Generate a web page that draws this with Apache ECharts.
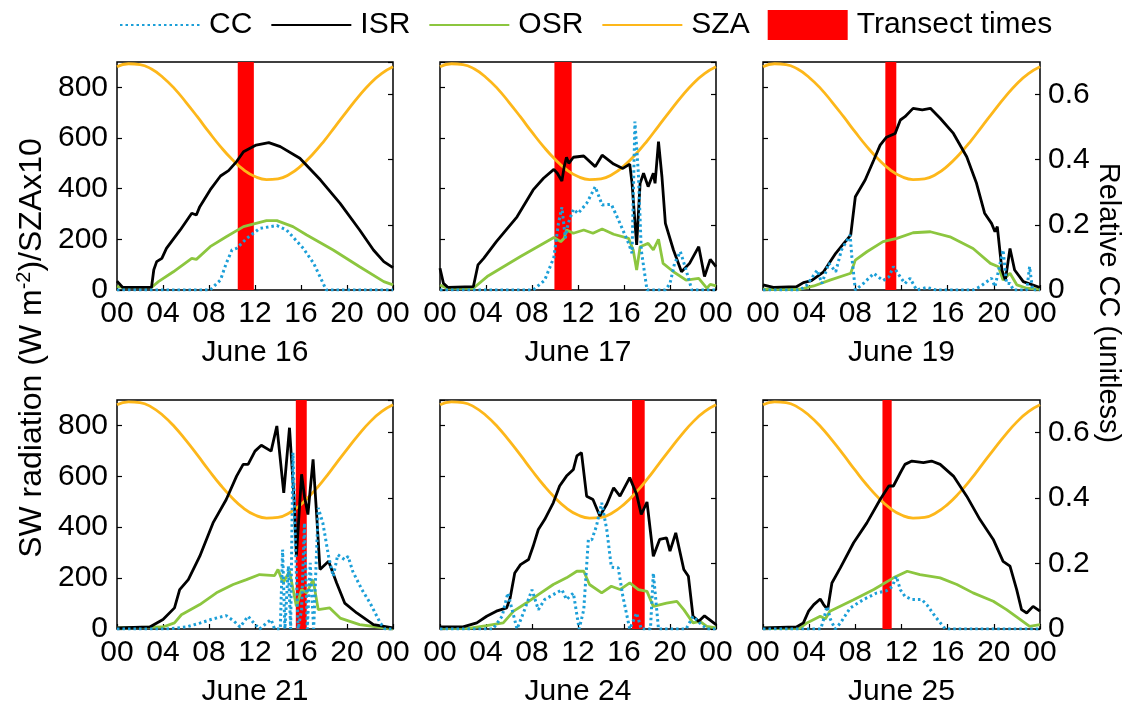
<!DOCTYPE html>
<html><head><meta charset="utf-8">
<script src="https://cdn.jsdelivr.net/npm/echarts@6/dist/echarts.min.js"></script>
<style>html,body{margin:0;padding:0;background:#fff}#c{width:1131px;height:709px}</style>
</head><body><div id="c"></div><script>
// ---- data (hours of day, values) ----
const panelTitles = ['June 16','June 17','June 19','June 21','June 24','June 25'];
const hourTickLabels = ['00','04','08','12','16','20','00'];

// SZA x10, hourly 00..24
const szaHours = [0,1,2,3,4,5,6,7,8,9,10,11,12,13,14,15,16,17,18,19,20,21,22,23,24];
const szaX10 = [881,893,890,872,839,795,741,683,623,566,516,475,448,436,439,457,490,535,588,647,706,763,814,854,881];

const isr16 = [[0,35],[0.5,10],[3,10],[3.2,80],[3.45,112],[3.9,125],[4.3,164],[5.5,237],[6.5,303],[6.9,296],[7.2,329],[8.1,395],[9.0,450],[9.7,471],[10.4,507],[11.0,546],[12.1,572],[13.2,582],[14.2,566],[15.9,520],[17.7,434],[19.4,342],[21.1,237],[22.3,158],[23.2,112],[24,88]];
const osr16 = [[0,14],[0.5,10],[3,10],[3.6,33],[4.9,72],[6.5,125],[6.9,121],[8.1,171],[9.5,210],[11,250],[13,274],[13.9,274],[15.3,250],[16.5,217],[18.8,158],[21.1,92],[23.2,33],[24,20]];
const cc16 = [[0,0],[8.1,0],[9,0.031],[9.5,0.082],[10,0.123],[10.4,0.128],[11.3,0.159],[12.4,0.189],[13.9,0.198],[14.75,0.184],[16.2,0.128],[17.1,0.082],[18.2,0],[24,0]];
const trans16 = [10.5, 11.9];

const isr17 = [[0,86],[0.3,26],[0.7,10],[2.9,13],[3.3,99],[3.8,125],[4.9,191],[6.7,289],[8.1,395],[9.0,441],[9.9,476],[10.2,461],[10.6,430],[10.8,487],[11.0,524],[11.2,500],[11.6,524],[12.5,529],[13.5,487],[14.1,532],[15.1,497],[15.9,480],[16.5,497],[16.7,421],[17.1,178],[17.4,421],[17.7,461],[18.1,408],[18.55,461],[18.7,421],[19.0,586],[19.3,447],[19.6,263],[20.3,158],[21,72],[21.7,105],[22.5,171],[23.0,53],[23.5,121],[24,92]];
const osr17 = [[0,20],[0.6,7],[2.9,7],[4.1,53],[7.0,132],[9.9,207],[10.5,191],[10.8,204],[11,237],[11.6,224],[12.5,237],[13.3,224],[14.1,241],[15.1,220],[16.4,204],[16.8,158],[17.1,79],[17.4,171],[18.1,184],[18.55,158],[19,200],[19.4,105],[20.3,72],[21.4,39],[22.5,46],[23.2,7],[23.5,22],[24,16]];
const cc17 = [[0,0],[8.1,0],[9.1,0.03],[9.9,0.10],[10.3,0.205],[10.6,0.254],[10.9,0.159],[11.15,0.205],[11.6,0.248],[12.0,0.235],[12.75,0.266],[13.5,0.317],[14.1,0.261],[14.9,0.263],[15.65,0.205],[16.4,0.143],[16.7,0.113],[16.95,0.517],[17.25,0.358],[17.5,0.123],[18,0],[19.6,0],[20,0.02],[20.4,0.082],[20.9,0.118],[21.4,0.061],[21.9,0],[24,0]];
const trans17 = [9.95, 11.45];

const isr19 = [[0,20],[0.9,10],[2.9,13],[3.5,29],[4.2,37],[5.25,72],[6.3,145],[7.0,184],[7.6,217],[8.0,368],[8.85,434],[9.6,513],[10.15,572],[10.7,603],[11.45,618],[11.9,671],[12.3,684],[13.0,717],[13.8,711],[14.5,717],[15.35,678],[16.5,618],[17.65,526],[18.5,421],[19.2,303],[19.8,263],[20.1,230],[20.3,250],[20.7,79],[21.0,39],[21.4,164],[21.8,79],[22.55,33],[24,10]];
const osr19 = [[0,3],[3.2,3],[4.4,16],[5.8,39],[7.6,66],[8.0,118],[9.0,151],[10.4,191],[11.6,204],[13,226],[14.5,230],[16.2,210],[18.2,164],[19.7,105],[20.4,92],[20.8,39],[21.4,66],[22,20],[22.85,7],[24,3]];
const cc19 = [[0,0],[3.2,0],[3.8,0.015],[4.7,0.061],[5.1,0.02],[5.7,0.082],[6.3,0.056],[6.8,0.123],[7.55,0.169],[7.7,0.10],[8.0,0],[8.7,0.02],[9.6,0.051],[10.4,0.029],[10.9,0.04],[11.3,0.072],[11.9,0.04],[12.3,0.02],[12.75,0.036],[13.3,0],[14.2,0.008],[15,0],[18.2,0],[18.8,0.01],[19.8,0.036],[20.1,0.01],[20.8,0.123],[21.1,0.02],[21.4,0.02],[21.7,0],[22.85,0],[23.1,0.072],[23.35,0],[24,0]];
const trans19 = [10.6, 11.55];

const isr21 = [[0,4],[2.85,8],[4.0,37],[5.0,83],[5.45,155],[6.2,194],[7.2,286],[8.35,417],[9.5,509],[10.4,601],[10.97,647],[11.4,647],[12.0,699],[12.55,722],[13.4,699],[13.9,798],[14.5,535],[15.0,791],[15.4,509],[15.6,286],[16.05,608],[16.3,522],[16.6,450],[17.05,667],[17.35,457],[17.65,234],[18.4,266],[19.1,181],[19.8,102],[20.85,63],[22.3,17],[24,4]];
const osr21 = [[0,4],[4.0,8],[5.0,24],[5.6,56],[7.2,96],[8.65,142],[10.1,175],[11.26,194],[12.4,214],[13.7,210],[14.0,234],[14.45,181],[15.0,227],[15.6,89],[16.05,155],[16.5,142],[17.05,194],[17.5,76],[18.5,83],[19.4,43],[21.1,17],[24,0]];
const cc21 = [[0,0],[4.3,0],[6.0,0.006],[7.2,0.018],[8.35,0.031],[9.5,0.041],[10.2,0.023],[10.7,0.006],[11.4,0.039],[11.9,0.018],[12.4,0],[13.0,0.018],[13.4,0.029],[13.7,0],[14.2,0],[14.4,0.243],[14.6,0],[14.9,0.192],[15.1,0],[15.3,0.539],[15.55,0.222],[15.75,0],[16.05,0.059],[16.3,0.324],[16.55,0],[16.8,0.202],[17.1,0],[17.5,0.37],[17.9,0.324],[18.4,0.222],[18.8,0.161],[19.2,0.227],[19.8,0.212],[20.1,0.222],[20.5,0.176],[21.3,0.12],[22.0,0.08],[22.9,0.018],[23.3,0],[24,0]];
const trans21 = [15.55, 16.5];

const isr24 = [[0,8],[2.0,8],[3.2,24],[4.06,50],[4.9,70],[5.8,83],[6.1,122],[6.5,220],[7.0,253],[7.7,273],[8.1,325],[8.55,391],[9.1,430],[9.85,496],[10.4,562],[11.0,601],[11.6,627],[11.9,680],[12.3,693],[12.75,522],[13.3,509],[13.9,444],[14.5,490],[15.1,555],[15.65,522],[16.5,595],[17.1,529],[17.5,450],[18.0,499],[18.55,286],[19.1,352],[19.7,358],[20.0,306],[20.5,378],[21.2,234],[21.6,207],[22.0,50],[22.5,30],[23.0,52],[24,17]];
const osr24 = [[0,3],[2.6,3],[4.06,13],[5.5,24],[6.4,70],[7.5,102],[8.55,135],[9.85,175],[11.0,201],[11.9,227],[12.5,227],[13.0,175],[14.06,142],[14.9,168],[15.65,155],[16.5,181],[17.25,155],[18.0,148],[18.55,89],[19.7,102],[20.6,109],[21.2,76],[22.0,24],[22.6,30],[23.2,10],[24,4]];
const cc24 = [[0,0],[4.6,0],[5.4,0.039],[5.9,0.11],[6.7,0],[7.25,0.049],[8.0,0.12],[8.55,0.059],[9.1,0.09],[9.85,0.105],[10.6,0.12],[11.0,0.09],[11.6,0.11],[12.1,0],[12.5,0.059],[12.9,0.273],[13.2,0.273],[13.6,0.314],[14.06,0.386],[14.5,0.304],[14.9,0.189],[15.5,0.187],[15.9,0.1],[16.5,0],[17.1,0.049],[17.5,0],[18.3,0],[18.55,0.171],[19.0,0],[21.4,0],[22.0,0.039],[22.6,0.018],[23.2,0],[24,0]];
const trans24 = [16.7, 17.8];

const isr25 = [[0,4],[2.9,8],[3.5,24],[3.95,70],[4.4,96],[4.96,118],[5.25,96],[5.6,76],[5.97,181],[6.7,240],[7.85,339],[9.0,417],[10.15,509],[10.9,562],[11.3,562],[11.9,614],[12.3,647],[12.9,660],[13.9,654],[14.6,660],[15.35,647],[16.5,601],[17.65,522],[18.8,430],[19.95,352],[20.8,266],[21.4,247],[21.98,155],[22.4,76],[22.85,63],[23.4,89],[24,70]];
const osr25 = [[0,3],[3.2,3],[3.8,24],[4.96,50],[5.4,39],[5.8,70],[7.85,115],[9.6,155],[11.3,201],[12.5,227],[13.6,214],[15.35,201],[16.8,175],[18.2,142],[19.95,109],[21.1,76],[22.3,37],[23.1,10],[24,17]];
const cc25 = [[0,0],[5.0,0],[5.25,0.029],[5.55,0.069],[5.85,0.029],[6.25,0],[6.7,0.018],[7.55,0.064],[8.7,0.09],[9.85,0.11],[10.7,0.117],[11.2,0.13],[11.55,0.161],[11.9,0.12],[12.3,0.1],[12.9,0.09],[13.75,0.09],[14.2,0.074],[14.9,0.039],[15.8,0],[24,0]];
const trans25 = [10.35, 11.15];

const isrAll = [isr16, isr17, isr19, isr21, isr24, isr25];
const osrAll = [osr16, osr17, osr19, osr21, osr24, osr25];
const ccAll = [cc16, cc17, cc19, cc21, cc24, cc25];
const transAll = [trans16, trans17, trans19, trans21, trans24, trans25];

// ---- layout / style ----
const FONT = "'Liberation Sans', Arial, sans-serif";
const FS = 30;
const colors = {cc:'#1b9fd8', isr:'#000000', osr:'#8cc63f', sza:'#fdb71a', tr:'#ff0000'};
const gridBoxes = [
  {left:117, top:62, width:276, height:228},
  {left:440, top:62, width:276, height:228},
  {left:763, top:62, width:277, height:228},
  {left:117, top:400, width:276, height:229},
  {left:440, top:400, width:276, height:229},
  {left:763, top:400, width:277, height:229}
];

const szaData = szaHours.map((h, i) => [h, szaX10[i]]);
const grid = [], xAxis = [], yAxis = [], series = [];
gridBoxes.forEach((b, i) => {
  const col = i % 3;
  grid.push(Object.assign({show:true, borderColor:'#000', borderWidth:1.5, backgroundColor:'transparent'}, b));
  xAxis.push({
    type:'value', gridIndex:i, min:0, max:24, interval:4,
    axisLine:{show:false}, splitLine:{show:false},
    axisTick:{show:true, inside:true, length:5, lineStyle:{color:'#000', width:1.2}},
    axisLabel:{fontSize:FS, fontFamily:FONT, color:'#000', margin:9, formatter:v => hourTickLabels[Math.round(v/4)]},
    name: panelTitles[i], nameLocation:'middle', nameGap:48,
    nameTextStyle:{fontSize:FS, fontFamily:FONT, color:'#000', verticalAlign:'top'}
  });
  yAxis.push({
    type:'value', gridIndex:i, position:'left', min:0, max:900, interval:200,
    axisLine:{show:false}, splitLine:{show:false},
    axisTick:{show:true, inside:true, length:5, lineStyle:{color:'#000', width:1.2}},
    axisLabel:{show: col === 0, showMaxLabel:false, fontSize:FS, fontFamily:FONT, color:'#000', margin:9}
  });
  yAxis.push({
    type:'value', gridIndex:i, position:'right', min:0, max:0.7, interval:0.2,
    axisLine:{show:false}, splitLine:{show:false},
    axisTick:{show:true, inside:true, length:5, lineStyle:{color:'#000', width:1.2}},
    axisLabel:{show: col === 2, showMaxLabel:false, fontSize:FS, fontFamily:FONT, color:'#000', margin:8,
      formatter: v => (Math.round(v*10)/10).toString()}
  });
  const yl = 2*i, yr = 2*i+1;
  series.push({
    name:'Transect times', type:'line', xAxisIndex:i, yAxisIndex:yl, data:[], z:1,
    color:colors.tr, itemStyle:{color:colors.tr}, symbol:'none', silent:true,
    markArea:{silent:true, z:1, itemStyle:{color:colors.tr, opacity:1}, label:{show:false},
      data:[[{xAxis:transAll[i][0]},{xAxis:transAll[i][1]}]]}
  });
  series.push({name:'SZA', type:'line', xAxisIndex:i, yAxisIndex:yl, data:szaData, smooth:true, symbol:'none', z:3,
    color:colors.sza, lineStyle:{color:colors.sza, width:2.8}});
  series.push({name:'OSR', type:'line', xAxisIndex:i, yAxisIndex:yl, data:osrAll[i], symbol:'none', z:4,
    color:colors.osr, lineStyle:{color:colors.osr, width:2.8}});
  series.push({name:'ISR', type:'line', xAxisIndex:i, yAxisIndex:yl, data:isrAll[i], symbol:'none', z:5,
    color:colors.isr, lineStyle:{color:colors.isr, width:2.8}});
  series.push({name:'CC', type:'line', xAxisIndex:i, yAxisIndex:yr, data:ccAll[i], symbol:'none', z:6,
    color:colors.cc, lineStyle:{color:colors.cc, width:3, type:[2.5,3]}});
});

const noSym = {opacity:0};
const chart = echarts.init(document.getElementById('c'), null, {renderer:'canvas'});
chart.setOption({
  animation:false,
  backgroundColor:'#fff',
  textStyle:{fontFamily:FONT},
  legend:{
    top:5, left:114, itemWidth:80, itemHeight:30, itemGap:18,
    textStyle:{fontSize:FS, fontFamily:FONT, color:'#000', padding:[0,0,0,4]},
    data:[{name:'CC', itemStyle:noSym},{name:'ISR', itemStyle:noSym},{name:'OSR', itemStyle:noSym},{name:'SZA', itemStyle:noSym},{name:'Transect times', icon:'rect'}]
  },
  grid, xAxis, yAxis, series,
  graphic:[
    {type:'text', x:32, y:348, rotation:Math.PI/2,
      style:{text:'SW radiation (W m{sup|-2})/SZAx10', fill:'#000', fontSize:32, fontFamily:FONT,
        align:'center', verticalAlign:'middle',
        rich:{sup:{fontSize:20, fontFamily:FONT, fill:'#000', verticalAlign:'top', lineHeight:35}}}},
    {type:'text', x:1108, y:303, rotation:-Math.PI/2,
      style:{text:'Relative CC (unitless)', fill:'#000', fontSize:29, fontFamily:FONT, align:'center', verticalAlign:'middle'}}
  ]
});
</script></body></html>
